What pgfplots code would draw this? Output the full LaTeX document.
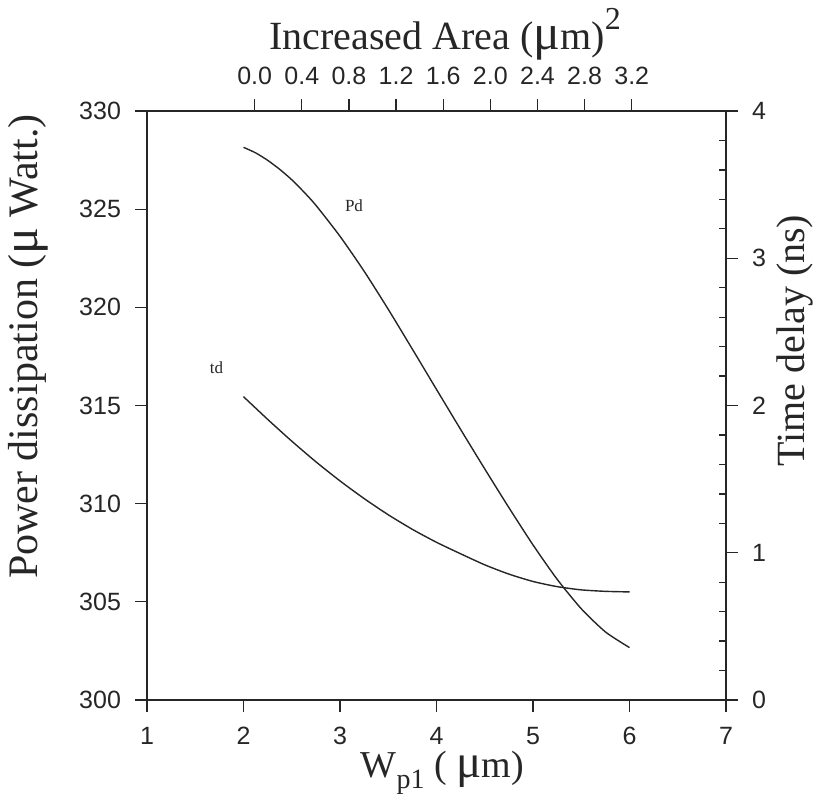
\documentclass[border=0pt]{standalone}
\usepackage{pgfplots}
\pgfplotsset{compat=1.18}
\usepackage{fontspec}
\setmainfont{Liberation Sans}
\newfontfamily\tnr{Liberation Serif}

\pgfplotstableread{
W P
2.000 328.15
2.125 327.87
2.250 327.49
2.375 327.03
2.500 326.50
2.625 325.88
2.750 325.20
3.000 323.62
3.250 321.84
3.500 319.90
3.750 317.87
4.000 315.82
4.250 313.78
4.500 311.77
4.750 309.80
5.000 307.90
5.250 306.15
5.500 304.65
5.750 303.47
6.000 302.67
}\pdtable

\pgfplotstableread{
W T
2.00 2.060
2.25 1.906
2.50 1.758
2.75 1.618
3.00 1.488
3.25 1.368
3.50 1.258
3.75 1.159
4.00 1.071
4.25 0.993
4.50 0.918
4.75 0.855
5.00 0.805
5.25 0.770
5.50 0.748
5.75 0.738
6.00 0.734
}\tdtable

\newcommand{\labfont}{\tnr\fontsize{20}{22}\selectfont}
\newcommand{\xlabfont}{\tnr\fontsize{19}{21}\selectfont}
\newcommand{\bigfont}{\tnr\fontsize{21}{23}\selectfont}
\newcommand{\mufont}{\fontsize{25}{25}\selectfont}

\pgfplotsset{
  base/.style={
    scale only axis, width=289.5pt, height=294.5pt,
    axis line style={-, line width=0.65pt, black!85},
    tick style={line width=0.65pt, black!85},
    major tick length=6pt,
    tick align=outside,
    minor tick num=0,
    /pgf/number format/assume math mode=true,
    tick label style={font=\fontsize{12.5}{14}\selectfont, text=black!85},
  }
}

\begin{document}
\begin{tikzpicture}
% main axis: left and bottom
\begin{axis}[base, name=main,
  xmin=1, xmax=7, ymin=300, ymax=330,
  axis x line*=bottom, axis y line*=left,
  xtick={1,2,3,4,5,6,7},
  ytick={300,305,310,315,320,325,330},
  yticklabel style={xshift=-3.5pt},
  xticklabel style={yshift=-4pt},
  xlabel={W\raisebox{-0.28em}{\fontsize{14}{14}\selectfont p1} ( {\fontsize{23.5}{23.5}\selectfont μ}m)},
  ylabel={Power dissipation ({\mufont μ} Watt.)},
  every axis x label/.style={at={(axis description cs:0.51,-0.1324)}, anchor=base, font=\xlabfont, text=black!85},
  every axis y label/.style={at={(axis description cs:-0.2055,0.60)}, rotate=90, anchor=center, font=\bigfont, text=black!85},
]
\addplot[line width=0.7pt, black!85, smooth, tension=0.4] table[x=W, y=P] {\pdtable};
\node[font=\tnr\fontsize{8.5}{10}\selectfont, text=black!85] at (axis cs:3.145,325.2) {Pd};
\node[font=\tnr\fontsize{8.5}{10}\selectfont, text=black!85] at (axis cs:1.72,316.95) {td};
\end{axis}
% right axis (time delay)
\begin{axis}[base,
  xmin=1, xmax=7, ymin=0, ymax=4,
  axis x line=none, axis y line*=right,
  ytick={0,1,2,3,4},
  yticklabel style={xshift=3.5pt},
  ylabel={Time delay (ns)},
  every axis y label/.style={at={(axis description cs:1.119,0.61)}, rotate=90, anchor=center, font=\labfont, text=black!85},
]
\addplot[line width=0.7pt, black!85, smooth, tension=0.4] table[x=W, y=T] {\tdtable};
\end{axis}
% right axis minor ticks (inside)
\begin{axis}[base,
  xmin=1, xmax=7, ymin=0, ymax=4,
  axis x line=none, axis y line*=right,
  tick align=inside, major tick length=3.5pt,
  ytick={0.2,0.4,0.6,0.8,1.2,1.4,1.6,1.8,2.2,2.4,2.6,2.8,3.2,3.4,3.6,3.8},
  yticklabels={},
]
\end{axis}
% top axis (increased area)
\begin{axis}[base,
  xmin=-0.914, xmax=4.0, ymin=0, ymax=1,
  axis y line=none, axis x line*=top,
  xtick={0,0.4,0.8,1.2,1.6,2.0,2.4,2.8,3.2},
  xticklabels={0.0,0.4,0.8,1.2,1.6,2.0,2.4,2.8,3.2},
  xticklabel style={yshift=3.5pt},
  xlabel={Increased Area ({\mufont μ}m)\raisebox{0.5em}{\fontsize{16}{16}\selectfont 2}},
  every axis x label/.style={at={(axis description cs:0.515,1.104)}, anchor=base, font=\labfont, text=black!85},
]
\end{axis}
\pgfresetboundingbox
\path (main.south west) ++(-73.5pt,-49.5pt) rectangle ++(408.5pt,399.5pt);
\end{tikzpicture}
\end{document}
